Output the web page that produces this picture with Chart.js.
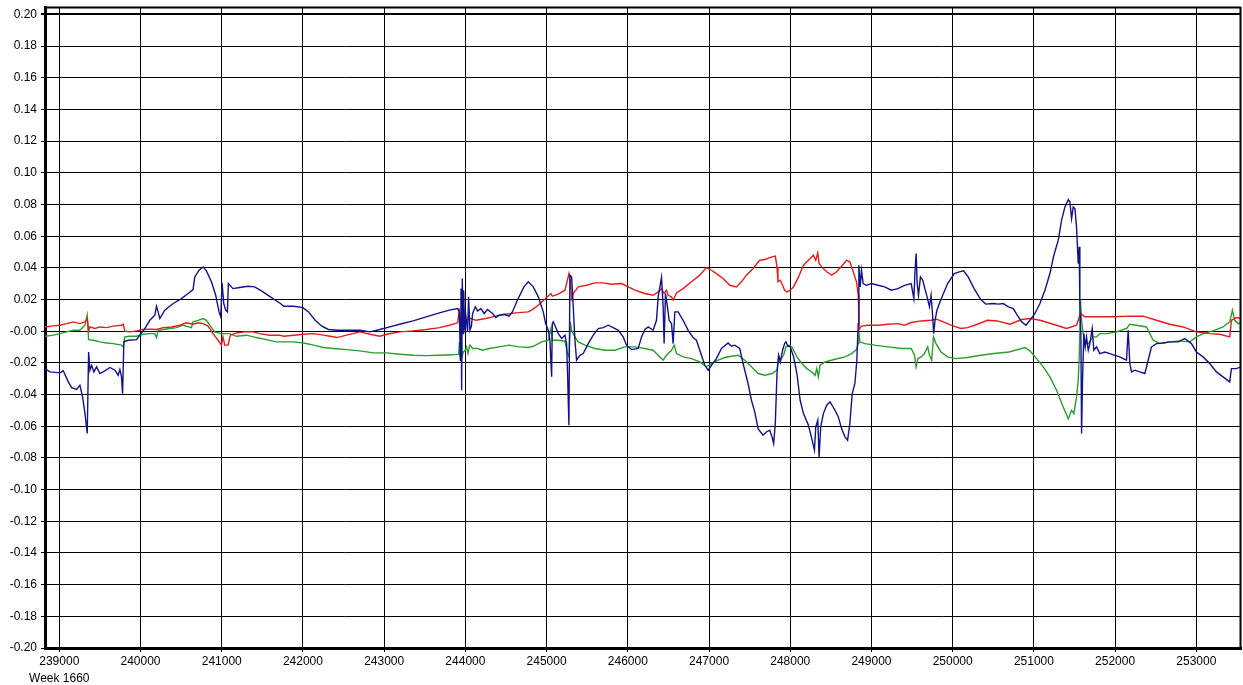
<!DOCTYPE html>
<html>
<head>
<meta charset="utf-8">
<script src="https://cdn.jsdelivr.net/npm/chart.js@4/dist/chart.umd.min.js"></script>
<style>
html,body{margin:0;padding:0;background:#ffffff;}
#wrap{width:1243px;height:685px;position:relative;}
</style>
</head>
<body>
<div id="wrap"><canvas id="c" width="1243" height="685"></canvas></div>
<script>
// ---- axis definitions ----
const xTicks = [239000,240000,241000,242000,243000,244000,245000,246000,247000,248000,249000,250000,251000,252000,253000];
const xAxisNote = "Week 1660";
const xRange = [238824, 253550];
const yTicks = [-0.20,-0.18,-0.16,-0.14,-0.12,-0.10,-0.08,-0.06,-0.04,-0.02,0,0.02,0.04,0.06,0.08,0.10,0.12,0.14,0.16,0.18,0.20];
const yTickLabels = ["-0.20","-0.18","-0.16","-0.14","-0.12","-0.10","-0.08","-0.06","-0.04","-0.02","-0.00","0.02","0.04","0.06","0.08","0.10","0.12","0.14","0.16","0.18","0.20"];
const yRange = [-0.20, 0.2047];

// ---- series: [time, value] ----
const blueSeries = [
[238824,-0.0236],[238885,-0.0257],[239008,-0.0263],[239049,-0.0250],[239111,-0.0320],[239152,-0.0356],[239213,-0.0368],[239254,-0.0341],
[239287,-0.0415],[239316,-0.0520],[239344,-0.0646],[239361,-0.0131],[239377,-0.0246],[239398,-0.0215],[239426,-0.0257],[239459,-0.0225],
[239500,-0.0267],[239561,-0.0250],[239623,-0.0229],[239684,-0.0246],[239725,-0.0278],[239746,-0.0242],[239766,-0.0288],[239779,-0.0394],
[239795,-0.0067],[239848,-0.0057],[239951,-0.0053],[239992,-0.0025],[240053,0.0017],[240115,0.0069],[240176,0.0101],[240197,0.0158],
[240217,0.0122],[240238,0.0080],[240299,0.0133],[240402,0.0175],[240504,0.0206],[240586,0.0238],[240647,0.0263],[240668,0.0343],
[240721,0.0385],[240770,0.0406],[240811,0.0381],[240873,0.0312],[240926,0.0227],[240967,0.0122],[240988,0.0091],[241004,0.0305],
[241025,0.0175],[241049,0.0133],[241070,0.0122],[241082,0.0301],[241139,0.0269],[241221,0.0276],[241324,0.0284],[241406,0.0280],
[241508,0.0248],[241631,0.0206],[241723,0.0175],[241763,0.0158],[241886,0.0158],[242000,0.0149],[242069,0.0122],[242151,0.0069],
[242233,0.0032],[242314,0.0011],[242416,0.0006],[242539,0.0006],[242702,0.0006],[242824,-0.0004],[242947,0.0011],[243069,0.0027],
[243191,0.0044],[243355,0.0065],[243518,0.0091],[243681,0.0116],[243803,0.0133],[243905,0.0143],[243926,0.0122],[243938,-0.0183],
[243946,0.0269],[243954,-0.0373],[243962,0.0333],[243971,-0.0015],[243979,0.0259],[243991,0.0006],[244007,0.0091],[244028,-0.0004],
[244040,0.0217],[244056,0.0006],[244073,0.0027],[244089,0.0112],[244122,0.0154],[244150,0.0128],[244191,0.0143],[244232,0.0112],
[244273,0.0137],[244334,0.0112],[244375,0.0086],[244415,0.0101],[244477,0.0107],[244538,0.0095],[244579,0.0122],[244640,0.0196],
[244721,0.0280],[244774,0.0312],[244836,0.0280],[244898,0.0217],[244959,0.0122],[244988,0.0048],[245021,0.0006],[245041,-0.0057],
[245062,-0.0288],[245070,0.0048],[245082,0.0059],[245111,0.0027],[245144,-0.0015],[245185,-0.0046],[245226,-0.0025],[245246,-0.0078],
[245258,-0.0267],[245275,-0.0594],[245287,0.0354],[245308,0.0343],[245328,0.0154],[245349,-0.0057],[245369,-0.0183],[245410,-0.0152],
[245451,-0.0141],[245513,-0.0078],[245574,-0.0025],[245636,0.0017],[245697,0.0023],[245759,0.0038],[245820,0.0023],[245882,0.0006],
[245943,-0.0036],[245984,-0.0088],[246046,-0.0116],[246128,-0.0109],[246169,-0.0036],[246210,0.0011],[246251,0.0027],[246312,0.0006],
[246353,0.0069],[246374,0.0217],[246415,0.0339],[246435,0.0154],[246447,-0.0078],[246464,0.0238],[246488,0.0154],[246509,0.0069],
[246538,0.0048],[246558,-0.0078],[246579,0.0122],[246620,0.0122],[246681,0.0069],[246743,0.0006],[246804,-0.0040],[246845,-0.0057],
[246886,-0.0120],[246948,-0.0215],[246989,-0.0246],[247030,-0.0215],[247091,-0.0173],[247153,-0.0109],[247235,-0.0074],[247276,-0.0095],
[247317,-0.0088],[247378,-0.0109],[247419,-0.0204],[247481,-0.0330],[247522,-0.0436],[247563,-0.0509],[247604,-0.0615],[247665,-0.0657],
[247706,-0.0636],[247747,-0.0625],[247776,-0.0667],[247796,-0.0709],[247816,-0.0583],[247837,-0.0267],[247857,-0.0152],[247878,-0.0194],
[247906,-0.0120],[247931,-0.0078],[247947,-0.0067],[247971,-0.0095],[248000,-0.0099],[248041,-0.0162],[248082,-0.0267],[248122,-0.0436],
[248163,-0.0520],[248224,-0.0594],[248265,-0.0678],[248298,-0.0751],[248314,-0.0604],[248339,-0.0562],[248355,-0.0794],[248375,-0.0604],
[248408,-0.0520],[248449,-0.0467],[248490,-0.0446],[248551,-0.0499],[248592,-0.0541],[248632,-0.0615],[248673,-0.0667],[248706,-0.0688],
[248734,-0.0583],[248763,-0.0394],[248796,-0.0330],[248820,-0.0183],[248837,0.0048],[248845,0.0417],[248861,0.0280],[248877,0.0385],
[248898,0.0301],[248938,0.0290],[249000,0.0301],[249081,0.0290],[249163,0.0280],[249244,0.0259],[249326,0.0269],[249408,0.0290],
[249489,0.0301],[249522,0.0206],[249538,0.0396],[249550,0.0490],[249563,0.0301],[249579,0.0227],[249603,0.0343],[249632,0.0322],
[249652,0.0280],[249685,0.0217],[249714,0.0154],[249734,0.0227],[249754,0.0091],[249766,-0.0015],[249783,0.0069],[249807,0.0133],
[249836,0.0175],[249877,0.0227],[249938,0.0301],[250020,0.0364],[250081,0.0375],[250134,0.0381],[250191,0.0343],[250264,0.0269],
[250346,0.0200],[250407,0.0171],[250500,0.0175],[250562,0.0171],[250623,0.0175],[250685,0.0154],[250746,0.0143],[250795,0.0101],
[250849,0.0059],[250902,0.0038],[250951,0.0069],[251013,0.0112],[251074,0.0175],[251136,0.0259],[251197,0.0364],[251246,0.0480],
[251300,0.0575],[251341,0.0701],[251382,0.0785],[251423,0.0831],[251443,0.0817],[251464,0.0711],[251484,0.0785],[251505,0.0775],
[251525,0.0659],[251546,0.0427],[251558,0.0533],[251566,0.0154],[251579,-0.0036],[251587,-0.0646],[251599,-0.0309],[251615,-0.0015],
[251632,-0.0099],[251648,-0.0036],[251669,-0.0120],[251689,-0.0078],[251718,0.0017],[251738,-0.0120],[251771,-0.0099],[251812,-0.0141],
[251874,-0.0131],[251935,-0.0141],[251997,-0.0152],[252058,-0.0162],[252140,-0.0183],[252161,0.0006],[252181,-0.0204],[252202,-0.0257],
[252243,-0.0246],[252304,-0.0257],[252366,-0.0267],[252407,-0.0183],[252448,-0.0099],[252509,-0.0078],[252591,-0.0074],[252673,-0.0067],
[252776,-0.0067],[252858,-0.0046],[252940,-0.0078],[253001,-0.0131],[253083,-0.0162],[253165,-0.0204],[253247,-0.0257],[253329,-0.0288],
[253411,-0.0320],[253432,-0.0236],[253493,-0.0236],[253550,-0.0225]
];

const redSeries = [
[238824,0.0027],[238926,0.0034],[239008,0.0038],[239090,0.0048],[239172,0.0059],[239254,0.0048],[239316,0.0059],[239344,0.0080],
[239361,0.0006],[239377,0.0027],[239438,0.0017],[239500,0.0027],[239582,0.0023],[239664,0.0032],[239766,0.0038],[239787,0.0044],
[239807,0.0000],[239869,-0.0004],[239951,0.0002],[240033,0.0011],[240115,0.0013],[240197,0.0011],[240279,0.0023],[240381,0.0027],
[240484,0.0038],[240565,0.0053],[240647,0.0044],[240709,0.0053],[240770,0.0048],[240832,0.0032],[240893,-0.0015],[240955,-0.0057],
[240996,-0.0088],[241016,-0.0036],[241037,-0.0088],[241078,-0.0088],[241106,-0.0025],[241180,-0.0011],[241283,-0.0004],[241385,-0.0004],
[241467,-0.0015],[241590,-0.0025],[241713,-0.0025],[241763,-0.0032],[241886,-0.0025],[242008,-0.0019],[242131,-0.0015],[242253,-0.0025],
[242335,-0.0032],[242416,-0.0040],[242539,-0.0025],[242702,-0.0004],[242824,-0.0019],[242947,-0.0032],[243028,-0.0019],[243191,-0.0004],
[243355,0.0002],[243518,0.0011],[243681,0.0023],[243803,0.0038],[243905,0.0053],[243926,0.0143],[243938,0.0027],[243954,0.0091],
[243975,0.0059],[243999,0.0048],[244028,0.0080],[244069,0.0080],[244130,0.0069],[244252,0.0080],[244375,0.0095],[244497,0.0107],
[244619,0.0116],[244774,0.0122],[244816,0.0133],[244898,0.0164],[245000,0.0213],[245053,0.0238],[245070,0.0221],[245144,0.0234],
[245226,0.0259],[245258,0.0326],[245275,0.0364],[245291,0.0322],[245308,0.0206],[245328,0.0238],[245390,0.0280],[245492,0.0290],
[245595,0.0305],[245697,0.0305],[245800,0.0297],[245923,0.0301],[246005,0.0280],[246087,0.0259],[246210,0.0238],[246312,0.0227],
[246374,0.0248],[246415,0.0269],[246447,0.0238],[246476,0.0259],[246497,0.0227],[246538,0.0217],[246558,0.0196],[246599,0.0242],
[246681,0.0269],[246784,0.0312],[246886,0.0354],[246968,0.0402],[247030,0.0385],[247091,0.0364],[247173,0.0333],[247255,0.0290],
[247337,0.0280],[247399,0.0312],[247460,0.0354],[247542,0.0396],[247624,0.0448],[247686,0.0453],[247776,0.0469],[247816,0.0474],
[247837,0.0406],[247849,0.0312],[247878,0.0322],[247906,0.0290],[247931,0.0259],[247959,0.0248],[248000,0.0259],[248041,0.0280],
[248102,0.0343],[248163,0.0417],[248224,0.0448],[248286,0.0480],[248314,0.0448],[248339,0.0495],[248355,0.0427],[248388,0.0406],
[248449,0.0375],[248510,0.0354],[248571,0.0375],[248632,0.0410],[248694,0.0448],[248734,0.0438],[248775,0.0375],[248816,0.0312],
[248837,0.0227],[248845,0.0111],[248849,0.0011],[248877,0.0032],[248959,0.0038],[249081,0.0038],[249204,0.0044],[249326,0.0048],
[249408,0.0038],[249489,0.0055],[249612,0.0065],[249734,0.0069],[249795,0.0076],[249856,0.0065],[249979,0.0038],[250101,0.0017],
[250183,0.0023],[250305,0.0044],[250428,0.0069],[250550,0.0065],[250705,0.0044],[250849,0.0074],[250951,0.0080],[251074,0.0069],
[251238,0.0044],[251402,0.0017],[251525,0.0038],[251574,0.0112],[251628,0.0091],[251771,0.0091],[251976,0.0091],[252181,0.0095],
[252345,0.0095],[252509,0.0069],[252673,0.0044],[252837,0.0027],[253001,-0.0004],[253165,-0.0015],[253288,-0.0019],[253411,-0.0036],
[253432,0.0069],[253493,0.0086],[253550,0.0080]
];

const greenSeries = [
[238824,-0.0032],[238926,-0.0025],[239008,-0.0015],[239090,-0.0004],[239172,0.0006],[239254,0.0006],[239316,0.0038],[239344,0.0101],
[239361,-0.0053],[239418,-0.0057],[239500,-0.0067],[239582,-0.0074],[239664,-0.0078],[239766,-0.0088],[239787,-0.0099],[239807,-0.0036],
[239869,-0.0032],[239951,-0.0032],[240033,-0.0019],[240115,-0.0015],[240176,-0.0015],[240197,-0.0040],[240217,0.0006],[240279,0.0011],
[240361,0.0017],[240443,0.0023],[240525,0.0038],[240627,0.0023],[240647,0.0059],[240709,0.0069],[240770,0.0080],[240811,0.0069],
[240852,0.0038],[240914,-0.0004],[240996,-0.0015],[241098,-0.0015],[241180,-0.0032],[241303,-0.0025],[241426,-0.0040],[241549,-0.0053],
[241672,-0.0067],[241886,-0.0067],[242008,-0.0074],[242131,-0.0088],[242253,-0.0103],[242375,-0.0109],[242539,-0.0116],[242702,-0.0124],
[242865,-0.0137],[243028,-0.0137],[243191,-0.0145],[243355,-0.0152],[243518,-0.0154],[243681,-0.0152],[243844,-0.0149],[243918,-0.0145],
[243926,-0.0067],[243934,-0.0162],[243946,-0.0004],[243958,-0.0162],[243975,-0.0131],[243999,-0.0120],[244016,-0.0099],[244032,-0.0141],
[244056,-0.0088],[244089,-0.0109],[244150,-0.0109],[244211,-0.0120],[244293,-0.0109],[244415,-0.0099],[244538,-0.0088],[244660,-0.0099],
[244774,-0.0103],[244836,-0.0095],[244939,-0.0067],[245021,-0.0057],[245053,0.0017],[245070,-0.0057],[245144,-0.0057],[245226,-0.0063],
[245258,-0.0141],[245275,-0.0162],[245291,0.0059],[245308,0.0006],[245349,-0.0036],[245390,-0.0067],[245472,-0.0088],[245595,-0.0109],
[245718,-0.0120],[245841,-0.0120],[245964,-0.0099],[246087,-0.0099],[246210,-0.0109],[246312,-0.0120],[246374,-0.0152],[246435,-0.0183],
[246476,-0.0152],[246538,-0.0120],[246570,-0.0088],[246599,-0.0141],[246681,-0.0162],[246784,-0.0173],[246886,-0.0194],[246968,-0.0225],
[247030,-0.0204],[247112,-0.0183],[247194,-0.0166],[247276,-0.0158],[247358,-0.0152],[247440,-0.0183],[247522,-0.0225],[247604,-0.0267],
[247686,-0.0278],[247776,-0.0267],[247837,-0.0246],[247857,-0.0152],[247878,-0.0183],[247918,-0.0152],[247947,-0.0099],[247980,-0.0088],
[248020,-0.0099],[248082,-0.0162],[248143,-0.0204],[248204,-0.0236],[248265,-0.0257],[248306,-0.0278],[248326,-0.0236],[248347,-0.0288],
[248367,-0.0215],[248428,-0.0194],[248551,-0.0177],[248673,-0.0162],[248755,-0.0141],[248816,-0.0116],[248837,-0.0078],[248845,-0.0004],
[248857,-0.0067],[248918,-0.0078],[249040,-0.0088],[249204,-0.0099],[249367,-0.0109],[249489,-0.0109],[249530,-0.0152],[249550,-0.0225],
[249571,-0.0173],[249612,-0.0162],[249652,-0.0141],[249693,-0.0099],[249714,-0.0152],[249742,-0.0183],[249763,-0.0036],[249795,-0.0078],
[249856,-0.0131],[249938,-0.0162],[250040,-0.0173],[250183,-0.0166],[250346,-0.0152],[250509,-0.0141],[250693,-0.0131],[250890,-0.0103],
[250951,-0.0124],[251033,-0.0173],[251115,-0.0225],[251197,-0.0288],[251279,-0.0373],[251361,-0.0478],[251423,-0.0552],[251464,-0.0499],
[251492,-0.0520],[251525,-0.0415],[251546,-0.0309],[251558,-0.0162],[251574,0.0196],[251587,0.0069],[251607,-0.0015],[251628,-0.0078],
[251669,-0.0078],[251730,-0.0036],[251771,-0.0036],[251812,-0.0015],[251894,-0.0015],[252017,-0.0004],[252140,0.0017],[252181,0.0044],
[252263,0.0038],[252386,0.0027],[252468,-0.0057],[252550,-0.0078],[252673,-0.0067],[252796,-0.0061],[252919,-0.0067],[253001,-0.0036],
[253083,-0.0015],[253206,0.0002],[253329,0.0027],[253411,0.0059],[253444,0.0133],[253473,0.0069],[253514,0.0048],[253550,0.0053]
];

const toPoints = s => s.map(p => ({x: p[0], y: p[1]}));
const FONT = {family: "'Liberation Sans', Arial, sans-serif", size: 12};

const frame = {
  id: 'frame',
  afterDraw(chart) {
    const a = chart.chartArea, ctx = chart.ctx;
    ctx.save();
    ctx.strokeStyle = '#000';
    ctx.lineWidth = 2;
    ctx.beginPath();
    ctx.moveTo(a.left, a.top + 0.5);
    ctx.lineTo(a.right, a.top + 0.5);
    ctx.moveTo(a.right - 0.5, a.top);
    ctx.lineTo(a.right - 0.5, a.bottom);
    ctx.stroke();
    ctx.restore();
  }
};

new Chart(document.getElementById('c'), {
  type: 'line',
  data: {
    datasets: [
      {label: 'blue', data: toPoints(blueSeries), borderColor: '#12128e', borderWidth: 1.4, pointRadius: 0, tension: 0, order: 1},
      {label: 'red', data: toPoints(redSeries), borderColor: '#e41c1c', borderWidth: 1.4, pointRadius: 0, tension: 0, order: 2},
      {label: 'green', data: toPoints(greenSeries), borderColor: '#2a9e2a', borderWidth: 1.4, pointRadius: 0, tension: 0, order: 3}
    ]
  },
  options: {
    responsive: false,
    devicePixelRatio: 1,
    animation: false,
    events: [],
    layout: {padding: {left: 0, right: 2, top: 7, bottom: 0}},
    plugins: {legend: {display: false}, tooltip: {enabled: false}},
    scales: {
      x: {
        type: 'linear',
        min: xRange[0],
        max: xRange[1],
        afterBuildTicks: s => { s.ticks = xTicks.map(v => ({value: v})); },
        afterFit: s => { s.height = 37; },
        ticks: {
          autoSkip: false, maxRotation: 0, minRotation: 0,
          color: '#000', padding: 2,
          font: Object.assign({}, FONT, {lineHeight: 1.35}),
          callback: v => (v === xTicks[0] ? [String(v), xAxisNote] : String(v))
        },
        grid: {color: '#000', lineWidth: 1, tickLength: 4, drawTicks: true},
        border: {color: '#000', width: 3}
      },
      y: {
        type: 'linear',
        min: yRange[0],
        max: yRange[1],
        afterBuildTicks: s => { s.ticks = yTicks.map(v => ({value: v})); },
        afterFit: s => { s.width = 45; },
        ticks: {
          autoSkip: false, color: '#000', padding: 4,
          font: Object.assign({}, FONT, {lineHeight: 0.5}),
          callback: v => {
            const i = yTicks.findIndex(t => Math.abs(t - v) < 1e-9);
            return i >= 0 ? yTickLabels[i] : '';
          }
        },
        grid: {
          color: '#000', tickLength: 4, drawTicks: true,
          lineWidth: c => (c.tick && Math.abs(c.tick.value - 0.2) < 1e-9 ? 2 : 1)
        },
        border: {color: '#000', width: 3}
      }
    }
  },
  plugins: [frame]
});
</script>
</body>
</html>
